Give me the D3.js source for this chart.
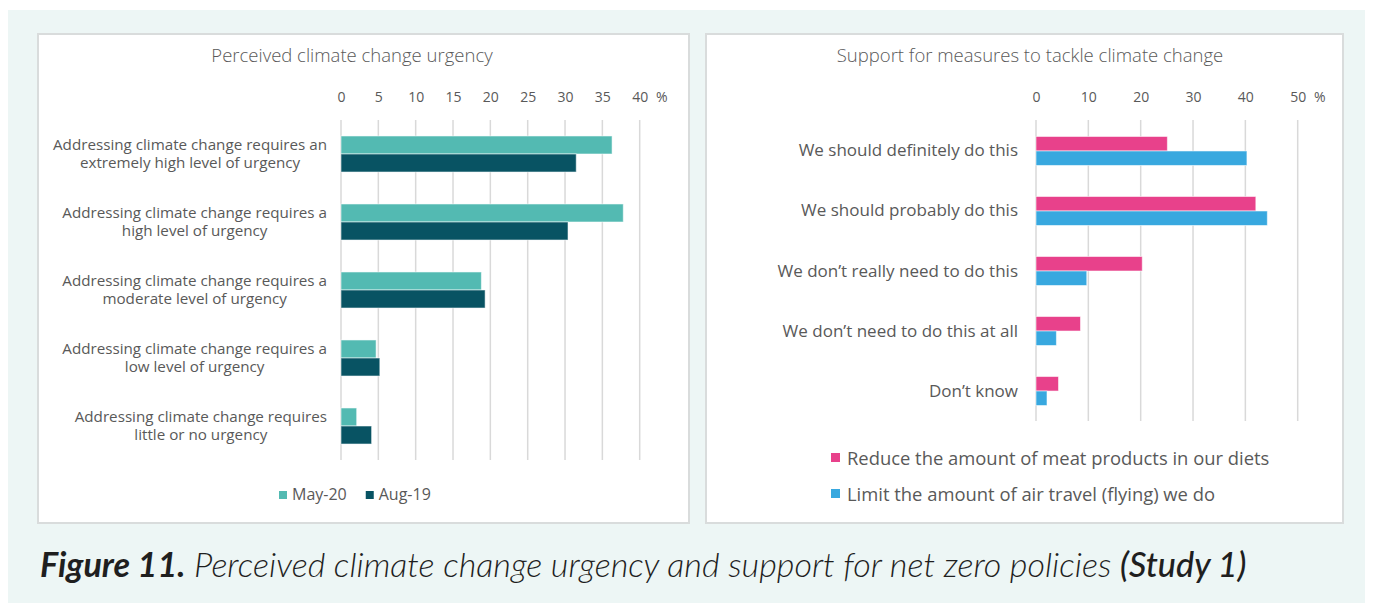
<!DOCTYPE html>
<html>
<head>
<meta charset="utf-8">
<script src="https://cdn.jsdelivr.net/npm/d3@7"></script>
<style>
  body { margin: 0; background: #ffffff; }
  svg { display: block; font-family: "Open Sans", Lato, sans-serif; }
</style>
</head>
<body>
<div id="chart"></div>
<script>
/* =====================================================
 * DATOS
 * ===================================================== */
const urgencyCats = [
  ["Addressing climate change requires an", "extremely high level of urgency"],
  ["Addressing climate change requires a", "high level of urgency"],
  ["Addressing climate change requires a", "moderate level of urgency"],
  ["Addressing climate change requires a", "low level of urgency"],
  ["Addressing climate change requires", "little or no urgency"]
];
const urgencySeries = ["May-20", "Aug-19"];
const urgencyMay20 = [36.3, 37.8, 18.8, 4.7, 2.1];
const urgencyAug19 = [31.5, 30.4, 19.3, 5.2, 4.1];
const urgencyTicks = [0, 5, 10, 15, 20, 25, 30, 35, 40];

const supportCats = [
  "We should definitely do this",
  "We should probably do this",
  "We don\u2019t really need to do this",
  "We don\u2019t need to do this at all",
  "Don\u2019t know"
];
const supportSeries = [
  "Reduce the amount of meat products in our diets",
  "Limit the amount of air travel (flying) we do"
];
const supportMeat = [25.1, 42.0, 20.3, 8.5, 4.3];
const supportFlying = [40.3, 44.2, 9.7, 3.9, 2.1];
const supportTicks = [0, 10, 20, 30, 40, 50];

const COLORS = {
  bg: "#edf6f5",
  panelBorder: "#d9dcdc",
  grid: "#d9d9d9",
  text: "#595959",
  teal: "#53bab2",
  darkTeal: "#085363",
  pink: "#e8418b",
  blue: "#38a8df"
};

const W = 1373, H = 603;

const svg = d3.select("#chart")
  .append("svg")
  .attr("width", W)
  .attr("height", H);

// Fondo y paneles
svg.append("rect")
  .attr("x", 8).attr("y", 10)
  .attr("width", W - 16).attr("height", H - 10)
  .attr("fill", COLORS.bg);

const panels = [
  { x: 38, y: 34, w: 651, h: 489 },
  { x: 706, y: 34, w: 637, h: 489 }
];
svg.selectAll("rect.panel")
  .data(panels)
  .enter()
  .append("rect")
  .attr("class", "panel")
  .attr("x", d => d.x).attr("y", d => d.y)
  .attr("width", d => d.w).attr("height", d => d.h)
  .attr("fill", "#ffffff")
  .attr("stroke", COLORS.panelBorder)
  .attr("stroke-width", 2);

/* =====================================================
 * HELPER: eje superior + rejilla
 * ===================================================== */
function drawGridAxis(g, x, ticks, y0, y1, labelY) {
  g.selectAll("line.grid")
    .data(ticks)
    .enter()
    .append("line")
    .attr("class", "grid")
    .attr("x1", d => x(d)).attr("x2", d => x(d))
    .attr("y1", y0).attr("y2", y1)
    .attr("stroke", COLORS.grid)
    .attr("stroke-width", 1.5);

  const axis = d3.axisTop(x).tickValues(ticks).tickSize(0).tickPadding(0);
  const ga = g.append("g")
    .attr("transform", `translate(0,${labelY})`)
    .call(axis);
  ga.select(".domain").remove();
  ga.selectAll("text")
    .attr("fill", COLORS.text)
    .attr("font-size", 14)
    .attr("font-family", "'Open Sans', sans-serif");

  // símbolo %
  g.append("text")
    .attr("x", x(ticks[ticks.length - 1]) + 22)
    .attr("y", labelY)
    .attr("text-anchor", "middle")
    .attr("fill", COLORS.text)
    .attr("font-size", 14)
    .text("%");
}

/* =====================================================
 * GRÁFICO IZQUIERDO: urgencia
 * ===================================================== */
const gL = svg.append("g");

gL.append("text")
  .attr("x", 352).attr("y", 62)
  .attr("text-anchor", "middle")
  .attr("fill", COLORS.text)
  .attr("font-size", 18.5)
  .attr("font-weight", 300)
  .text("Perceived climate change urgency");

const xL = d3.scaleLinear().domain([0, 40]).range([341, 639.7]);
const yL = d3.scaleBand()
  .domain(d3.range(urgencyCats.length))
  .range([120, 460])
  .paddingInner(0.47)
  .paddingOuter(0.235);
const ySubL = d3.scaleBand().domain(urgencySeries).range([0, yL.bandwidth()]);

drawGridAxis(gL, xL, urgencyTicks, 120, 460, 102);

const urgencyRows = urgencyCats.map((c, i) => ({
  i, values: [
    { s: "May-20", v: urgencyMay20[i], c: COLORS.teal },
    { s: "Aug-19", v: urgencyAug19[i], c: COLORS.darkTeal }
  ]
}));

gL.selectAll("g.row")
  .data(urgencyRows)
  .enter()
  .append("g")
  .attr("class", "row")
  .attr("transform", d => `translate(0,${yL(d.i)})`)
  .selectAll("rect")
  .data(d => d.values)
  .enter()
  .append("rect")
  .attr("x", xL(0))
  .attr("y", d => ySubL(d.s))
  .attr("width", d => xL(d.v) - xL(0))
  .attr("height", ySubL.bandwidth())
  .attr("fill", d => d.c)
  .attr("stroke", "rgba(255,255,255,0.55)")
  .attr("stroke-width", 1);

// Etiquetas de categoría (bloque alineado a la derecha, líneas centradas)
urgencyCats.forEach((lines, i) => {
  const cy = yL(i) + yL.bandwidth() / 2;
  const t = gL.append("text")
    .attr("fill", COLORS.text)
    .attr("font-size", 15.2)
    .attr("text-anchor", "middle");
  lines.forEach((ln, k) => {
    t.append("tspan").attr("y", cy - 4 + k * 18).text(ln);
  });
  let maxW = 0;
  t.selectAll("tspan").each(function() {
    maxW = Math.max(maxW, this.getComputedTextLength());
  });
  t.selectAll("tspan").attr("x", 327 - maxW / 2);
});

// Leyenda izquierda
const legL = gL.append("g");
let lx = 279;
[{ s: "May-20", c: COLORS.teal }, { s: "Aug-19", c: COLORS.darkTeal }].forEach(d => {
  legL.append("rect")
    .attr("x", lx).attr("y", 491)
    .attr("width", 8).attr("height", 8)
    .attr("fill", d.c);
  const t = legL.append("text")
    .attr("x", lx + 13).attr("y", 500)
    .attr("fill", COLORS.text)
    .attr("font-size", 16)
    .text(d.s);
  lx += 13 + t.node().getComputedTextLength() + 19;
});

/* =====================================================
 * GRÁFICO DERECHO: apoyo a medidas
 * ===================================================== */
const gR = svg.append("g");

gR.append("text")
  .attr("x", 1030).attr("y", 62)
  .attr("text-anchor", "middle")
  .attr("fill", COLORS.text)
  .attr("font-size", 18.5)
  .attr("font-weight", 300)
  .text("Support for measures to tackle climate change");

const xR = d3.scaleLinear().domain([0, 50]).range([1036, 1297.7]);
const yR = d3.scaleBand()
  .domain(d3.range(supportCats.length))
  .range([121, 421])
  .paddingInner(0.517)
  .paddingOuter(0.258);
const ySubR = d3.scaleBand().domain(supportSeries).range([0, yR.bandwidth()]);

drawGridAxis(gR, xR, supportTicks, 120, 421, 102);

const supportRows = supportCats.map((c, i) => ({
  i, values: [
    { s: supportSeries[0], v: supportMeat[i], c: COLORS.pink },
    { s: supportSeries[1], v: supportFlying[i], c: COLORS.blue }
  ]
}));

gR.selectAll("g.row")
  .data(supportRows)
  .enter()
  .append("g")
  .attr("class", "row")
  .attr("transform", d => `translate(0,${yR(d.i)})`)
  .selectAll("rect")
  .data(d => d.values)
  .enter()
  .append("rect")
  .attr("x", xR(0))
  .attr("y", d => ySubR(d.s))
  .attr("width", d => xR(d.v) - xR(0))
  .attr("height", ySubR.bandwidth())
  .attr("fill", d => d.c)
  .attr("stroke", "rgba(255,255,255,0.55)")
  .attr("stroke-width", 1);

gR.selectAll("text.cat")
  .data(supportCats)
  .enter()
  .append("text")
  .attr("class", "cat")
  .attr("x", 1018)
  .attr("y", (d, i) => yR(i) + yR.bandwidth() / 2 + 5.5)
  .attr("text-anchor", "end")
  .attr("fill", COLORS.text)
  .attr("font-size", 17)
  .text(d => d);

// Leyenda derecha
const legR = gR.selectAll("g.leg")
  .data([{ s: supportSeries[0], c: COLORS.pink }, { s: supportSeries[1], c: COLORS.blue }])
  .enter()
  .append("g")
  .attr("class", "leg")
  .attr("transform", (d, i) => `translate(831,${453 + i * 36})`);
legR.append("rect")
  .attr("width", 9).attr("height", 9)
  .attr("fill", d => d.c);
legR.append("text")
  .attr("x", 16).attr("y", 11.5)
  .attr("fill", COLORS.text)
  .attr("font-size", 18.4)
  .text(d => d.s);

/* =====================================================
 * PIE DE FIGURA
 * ===================================================== */
const cap = svg.append("text")
  .attr("x", 40).attr("y", 577)
  .attr("fill", "#1f1f1f")
  .attr("font-family", "Lato, sans-serif")
  .attr("font-size", 28)
  .attr("font-style", "italic");
cap.append("tspan").attr("font-weight", 700).text("Figure 11.");
cap.append("tspan").attr("font-weight", 300).text(" Perceived climate change urgency and support for net zero policies ");
cap.append("tspan").attr("font-weight", 500).text("(Study 1)");

// ajustar tamaño para ocupar el mismo ancho
const capW = cap.node().getComputedTextLength();
cap.attr("font-size", 28 * 1207 / capW);
</script>
</body>
</html>
